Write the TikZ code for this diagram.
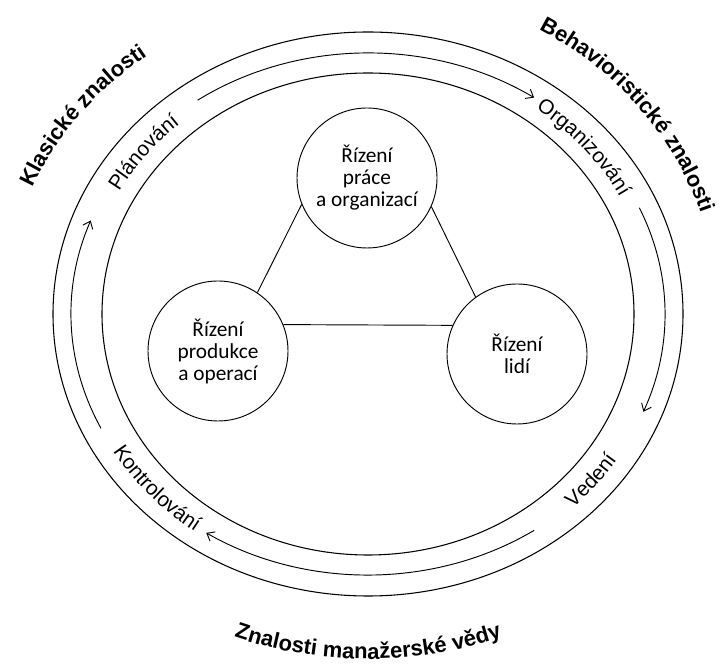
\documentclass[tikz,border=0pt]{standalone}
\usepackage{fontspec}
\setmainfont{Liberation Sans}
\newfontfamily\circlefont{Carlito}
\usetikzlibrary{arrows.meta,decorations.text}

\newcommand\ringfont{\fontsize{15.5}{18}\selectfont}
\newcommand\knowfont{\bfseries\fontsize{16.5}{20}\selectfont}

\begin{document}
\begin{tikzpicture}[x=0.75pt,y=0.75pt,
    area/.style={draw, circle, line width=0.7pt, minimum size=105pt, inner sep=0pt,
      align=center, font=\circlefont\fontsize{16}{16.5}\selectfont},
    flow/.style={line width=0.7pt, -{Straight Barb[length=5pt,width=8pt]}},
    ring/.style={line width=0.8pt}]
    \useasboundingbox (0,0) rectangle (724,670);
    \coordinate (C) at (368,356);

    % Draw rings
    \draw[ring] (C) ellipse [x radius=315, y radius=282];
    \draw[ring] (C) ellipse [x radius=266, y radius=241];

    % Cycle arrows
    \draw[flow] ([shift={(125:297 and 261)}]C) arc[start angle=125, end angle=56, x radius=297, y radius=261];
    \draw[flow] ([shift={(24:297 and 261)}]C) arc[start angle=24, end angle=-22, x radius=297, y radius=261];
    \draw[flow] ([shift={(-56:297 and 261)}]C) arc[start angle=-56, end angle=-123, x radius=297, y radius=261];
    \draw[flow] ([shift={(-154:297 and 261)}]C) arc[start angle=-154, end angle=-201, x radius=297, y radius=261];

    % Functions in the ring
    \path[decorate, decoration={text along path, text align=center, text={|\ringfont|Plánování}}]
      ([shift={(172:284 and 254)}]C) arc[start angle=172, end angle=112, x radius=284, y radius=254];
    \path[decorate, decoration={text along path, text align=center, text={|\ringfont|Organizování}}]
      ([shift={(70:284 and 254)}]C) arc[start angle=70, end angle=10, x radius=284, y radius=254];
    \path[decorate, decoration={text along path, text align=center, text={|\ringfont|Vedení}}]
      ([shift={(-69:297 and 268)}]C) arc[start angle=-69, end angle=-9, x radius=297, y radius=268];
    \path[decorate, decoration={text along path, text align=center, text={|\ringfont|Kontrolování}}]
      ([shift={(-168:297 and 268)}]C) arc[start angle=-168, end angle=-108, x radius=297, y radius=268];

    % Knowledge labels outside
    \path[decorate, decoration={text along path, text align=center, text={|\knowfont|Klasické znalosti}}]
      ([shift={(176:364 and 325)}]C) arc[start angle=176, end angle=110, x radius=364, y radius=325];
    \path[decorate, decoration={text along path, text align=center, text={|\knowfont|Behavioristické znalosti}}]
      ([shift={(75:350 and 326)}]C) arc[start angle=75, end angle=3, x radius=350, y radius=326];
    \path[decorate, decoration={text along path, text align=center, text={|\knowfont|Znalosti manažerské vědy}}]
      ([shift={(-135:379 and 345)}]C) arc[start angle=-135, end angle=-45, x radius=379, y radius=345];

    % Management areas
    \node[area] (prace) at (367,492) {Řízení\\práce\\a organizací};
    \node[area] (produkce) at (218,319) {Řízení\\produkce\\a operací};
    \node[area] (lide) at (517,316) {Řízení\\lidí};

    \draw[line width=0.7pt] (prace.202) -- (produkce.56);
    \draw[line width=0.7pt] (prace.336) -- (lide.126);
    \draw[line width=0.7pt] (produkce.22) -- (lide.156);
\end{tikzpicture}
\end{document}
